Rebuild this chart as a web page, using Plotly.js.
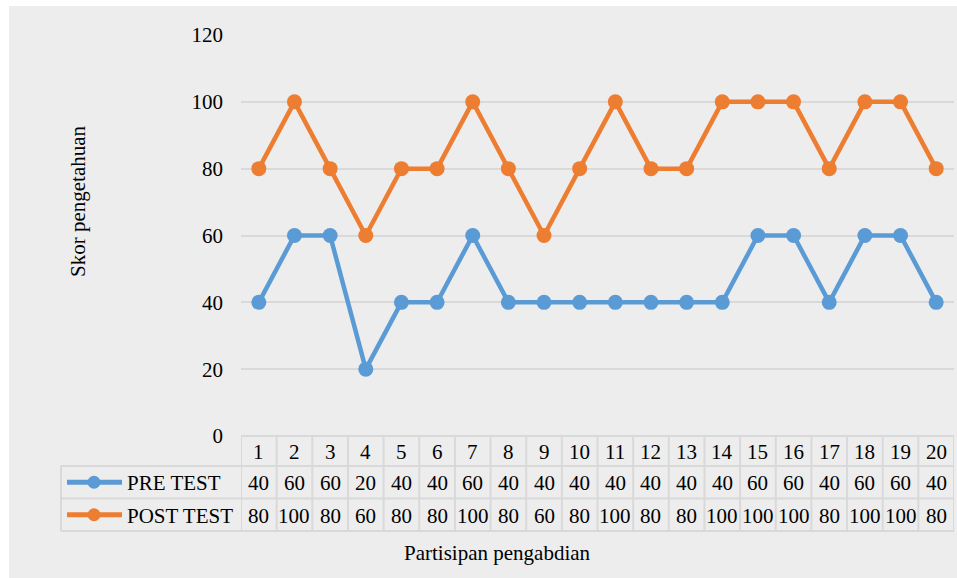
<!DOCTYPE html>
<html>
<head>
<meta charset="utf-8">
<script src="https://cdn.plot.ly/plotly-3.0.1.min.js"></script>
<style>html,body{margin:0;padding:0;background:#fff;}#chart{width:957px;height:578px;}</style>
</head>
<body>
<div id="chart"></div>
<script>
const categories = ['1','2','3','4','5','6','7','8','9','10','11','12','13','14','15','16','17','18','19','20'];
const preTest = [40,60,60,20,40,40,60,40,40,40,40,40,40,40,60,60,40,60,60,40];
const postTest = [80,100,80,60,80,80,100,80,60,80,100,80,80,100,100,100,80,100,100,80];
const seriesNames = ['PRE TEST','POST TEST'];
const yTickVals = [0,20,40,60,80,100,120];
const yTitle = 'Skor pengetahuan';
const xTitle = 'Partisipan pengabdian';

const W = 957, H = 578;
const L = 241, R = 954, T = 35, B = 436;
const px = X => (X - L) / (R - L);
const py = Y => (B - Y) / (B - T);
const FONT = '"Liberation Serif", "Times New Roman", serif';
const BLUE = '#5B9BD5', ORANGE = '#ED7D31', GRID = '#D9D9D9';
const colors = [BLUE, ORANGE];
const seriesData = [preTest, postTest];

const traces = seriesData.map((vals, i) => ({
  type: 'scatter', mode: 'lines+markers', x: categories, y: vals, name: seriesNames[i],
  line: {color: colors[i], width: 4.5},
  marker: {color: colors[i], size: 15},
  cliponaxis: false, showlegend: false
}));

const shapes = [];
const annotations = [];
// background
shapes.push({type:'rect', xref:'paper', yref:'paper', x0:px(9), x1:px(W+5), y0:py(6), y1:py(H+5),
  fillcolor:'#EDEDED', line:{width:0}, layer:'below'});

// table rows (pixel Y)
const rowY = [436, 466, 498.5, 531];
const tl = {color: GRID, width: 2};
shapes.push({type:'line', xref:'paper', yref:'paper', x0:px(L), x1:px(R), y0:py(rowY[0]), y1:py(rowY[0]), line:tl});
for (let r = 1; r < 4; r++) {
  shapes.push({type:'line', xref:'paper', yref:'paper', x0:px(61), x1:px(R), y0:py(rowY[r]), y1:py(rowY[r]), line:tl});
}
shapes.push({type:'line', xref:'paper', yref:'paper', x0:px(61), x1:px(61), y0:py(rowY[1]), y1:py(rowY[3]), line:tl});
for (let k = 0; k <= categories.length; k++) {
  shapes.push({type:'line', xref:'x', yref:'paper', x0:k-0.5, x1:k-0.5, y0:py(rowY[0]), y1:py(rowY[3]), line:tl});
}
const rowCenters = [(rowY[0]+rowY[1])/2, (rowY[1]+rowY[2])/2, (rowY[2]+rowY[3])/2];
categories.forEach((c, i) => {
  annotations.push({xref:'x', yref:'paper', x:i, y:py(rowCenters[0]+1), text:c, showarrow:false,
    font:{family:FONT, size:21, color:'#000'}, xanchor:'center', yanchor:'middle'});
  seriesData.forEach((vals, s) => {
    annotations.push({xref:'x', yref:'paper', x:i, y:py(rowCenters[s+1]+1), text:String(vals[i]), showarrow:false,
      font:{family:FONT, size:21, color:'#000'}, xanchor:'center', yanchor:'middle'});
  });
});
seriesNames.forEach((n, s) => {
  const yc = rowCenters[s+1];
  shapes.push({type:'line', xref:'paper', yref:'paper', x0:px(67), x1:px(122), y0:py(yc), y1:py(yc),
    line:{color:colors[s], width:5}});
  shapes.push({type:'circle', xref:'paper', yref:'paper', x0:px(94-6.5), x1:px(94+6.5), y0:py(yc-6.5), y1:py(yc+6.5),
    fillcolor:colors[s], line:{color:colors[s], width:0}});
  annotations.push({xref:'paper', yref:'paper', x:px(125), y:py(yc+1), text:n, showarrow:false,
    font:{family:FONT, size:21, color:'#000'}, xanchor:'left', yanchor:'middle'});
});
annotations.push({xref:'paper', yref:'paper', x:px(78), y:py(201), text:yTitle, textangle:-90, showarrow:false,
  font:{family:FONT, size:21, color:'#000'}, xanchor:'center', yanchor:'middle'});
annotations.push({xref:'paper', yref:'paper', x:px(497), y:py(553), text:xTitle, showarrow:false,
  font:{family:FONT, size:21, color:'#000'}, xanchor:'center', yanchor:'middle'});

const layout = {
  width: W, height: H,
  margin: {l: L, r: W - R, t: T, b: H - B, pad: 0},
  paper_bgcolor: '#FFFFFF', plot_bgcolor: 'rgba(0,0,0,0)',
  showlegend: false,
  font: {family: FONT, size: 21, color: '#000'},
  xaxis: {type:'category', range:[-0.5, categories.length - 0.5], showticklabels:false, showgrid:false,
    zeroline:false, showline:false, ticks:'', fixedrange:true},
  yaxis: {range:[0,120], tickvals:yTickVals, ticktext:yTickVals.map(String), showgrid:true, gridcolor:GRID, gridwidth:2,
    zeroline:false, showline:false, ticks:'', ticklabelstandoff:17, tickfont:{family:FONT, size:21, color:'#000'}, fixedrange:true},
  shapes: shapes,
  annotations: annotations
};
Plotly.newPlot('chart', traces, layout, {displayModeBar:false, staticPlot:true});
</script>
</body>
</html>
